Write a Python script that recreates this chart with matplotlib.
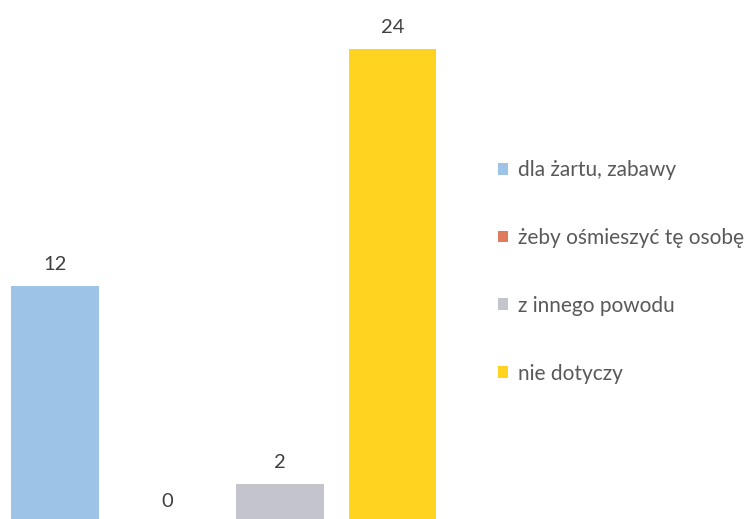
import matplotlib
matplotlib.use('Agg')
import matplotlib.pyplot as plt
from matplotlib.patches import Patch

# data
categories = ["dla żartu, zabawy", "żeby ośmieszyć tę osobę", "z innego powodu", "nie dotyczy"]
values = [12, 0, 2, 24]
colors = ["#9dc3e6", "#e07a5f", "#c4c4cc", "#ffd320"]

plt.rcParams['font.family'] = ['Lato', 'DejaVu Sans']

W, H = 753, 519
fig = plt.figure(figsize=(W / 100, H / 100), dpi=100)
ax = fig.add_axes([0, 0, 460 / W, 1])

x = list(range(len(values)))
ax.bar(x, values, width=0.78, color=colors, edgecolor='none')

# scale: ~112.5 px per category, ~19.75 px per unit
ax.set_xlim(-55 / 112.5, (460 - 55) / 112.5)
ax.set_ylim(4 / 19.75, 4 / 19.75 + H / 19.75)
ax.axis('off')

for xi, v in zip(x, values):
    ax.annotate(str(v), (xi, v), xytext=(0, 11.5), textcoords='offset points',
                ha='center', va='baseline', fontsize=14.5, color='#404040',
                annotation_clip=False)

handles = [Patch(facecolor=c, edgecolor='none') for c in colors]
fig.legend(handles, categories, loc='upper left',
           bbox_to_anchor=(498 / W, 1 - 160 / H), bbox_transform=fig.transFigure,
           frameon=False, fontsize=15, labelcolor='#595959',
           handlelength=0.5, handleheight=0.5, handletextpad=0.45,
           labelspacing=2.3, borderpad=0, borderaxespad=0)

fig.savefig('out.png', dpi=100)
